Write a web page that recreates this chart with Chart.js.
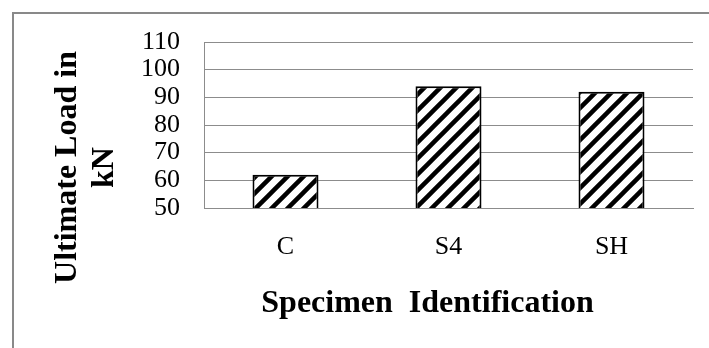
<!DOCTYPE html>
<html>
<head>
<meta charset="utf-8">
<script src="https://cdn.jsdelivr.net/npm/chart.js@4.4.0/dist/chart.umd.min.js"></script>
<style>
html,body{margin:0;padding:0;background:#fff;}
#wrap{width:709px;height:348px;position:relative;}
canvas{display:block;}
</style>
</head>
<body>
<div id="wrap"><canvas id="c" width="709" height="348"></canvas></div>
<script>
// ---- data ----
const categories = ['C', 'S4', 'SH'];
const ultimateLoad = [62, 94, 92];
const yTicks = [50, 60, 70, 80, 90, 100, 110];
const yTitleLines = ['Ultimate Load in', 'kN'];
const xTitle = 'Specimen  Identification';

const FONT = "'Liberation Serif', 'Times New Roman', serif";
const GRID = '#8c8c8c';

function makeHatch() {
  const s = 16;
  const t = document.createElement('canvas');
  t.width = s; t.height = s;
  const g = t.getContext('2d');
  g.fillStyle = '#fff';
  g.fillRect(0, 0, s, s);
  g.strokeStyle = '#000';
  g.lineWidth = 4.5;
  g.beginPath();
  g.moveTo(-4, s + 4); g.lineTo(s + 4, -4);
  g.moveTo(-4, 4); g.lineTo(4, -4);
  g.moveTo(s - 4, s + 4); g.lineTo(s + 4, s - 4);
  g.stroke();
  return document.getElementById('c').getContext('2d').createPattern(t, 'repeat');
}

const decor = {
  id: 'decor',
  beforeDraw(chart) {
    const ctx = chart.ctx;
    ctx.save();
    ctx.fillStyle = '#fff';
    ctx.fillRect(0, 0, chart.width, chart.height);
    ctx.strokeStyle = '#898989';
    ctx.lineWidth = 2;
    ctx.strokeRect(13, 13, 800, 600);
    ctx.restore();
  },
  afterDraw(chart) {
    const ctx = chart.ctx;
    ctx.save();
    ctx.fillStyle = '#000';
    ctx.font = "bold 32px " + FONT;
    ctx.textAlign = 'center';
    ctx.textBaseline = 'alphabetic';
    // y title (two lines, rotated)
    const baseX = [76, 113];
    yTitleLines.forEach((line, i) => {
      ctx.save();
      ctx.translate(baseX[i], 167.5);
      ctx.rotate(-Math.PI / 2);
      ctx.fillText(line, 0, 0);
      ctx.restore();
    });
    // x title
    ctx.fillText(xTitle, 427.5, 311.5);
    ctx.restore();
  }
};

new Chart(document.getElementById('c'), {
  type: 'bar',
  data: {
    labels: categories,
    datasets: [{
      data: ultimateLoad,
      backgroundColor: makeHatch(),
      borderColor: '#000',
      borderWidth: 2,
      categoryPercentage: 1,
      barPercentage: 0.405
    }]
  },
  options: {
    responsive: false,
    animation: false,
    events: [],
    layout: { padding: { left: 120, right: 16, top: 42, bottom: 0 } },
    plugins: { legend: { display: false }, tooltip: { enabled: false } },
    scales: {
      x: {
        grid: { display: false, drawTicks: false },
        border: { display: true, color: GRID, width: 1 },
        ticks: { color: '#000', font: { family: FONT, size: 26 }, padding: 24, autoSkip: false },
        afterFit(s) { s.height = 140; }
      },
      y: {
        min: yTicks[0],
        max: yTicks[yTicks.length - 1],
        afterBuildTicks(s) { s.ticks = yTicks.map(v => ({ value: v })); },
        grid: { color: GRID, lineWidth: 1, drawTicks: false },
        border: { display: true, color: GRID, width: 1 },
        ticks: { color: '#000', font: { family: FONT, size: 26 }, padding: 24, autoSkip: false },
        afterFit(s) { s.width = 84; }
      }
    }
  },
  plugins: [decor]
});
</script>
</body>
</html>
